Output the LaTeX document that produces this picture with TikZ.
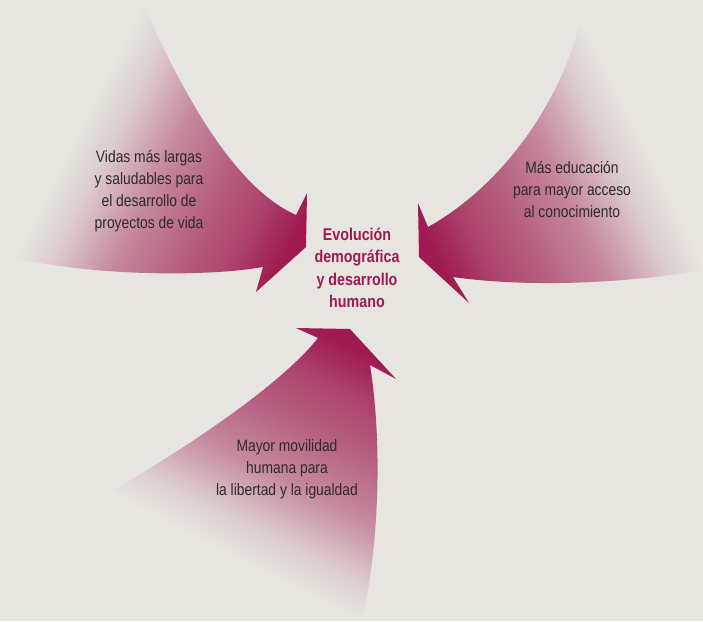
\documentclass[tikz,border=0pt]{standalone}
\usepackage{fontspec}
\setmainfont{Liberation Sans}[FakeStretch=0.84]
\definecolor{fondo}{HTML}{E6E5DF}
\definecolor{vino}{HTML}{9E1A50}
\definecolor{texto}{HTML}{2E2B2C}
\colorlet{vinoA}{vino!11!fondo}
\colorlet{vinoB}{vino!45!fondo}
\colorlet{vinoC}{vino!64!fondo}
\colorlet{vinoD}{vino!80!fondo}
\pgfdeclarehorizontalshading{brazofade}{100bp}{color(0bp)=(fondo); color(25bp)=(fondo); color(31.5bp)=(vinoA); color(42.75bp)=(vinoB); color(53bp)=(vinoC); color(63.5bp)=(vinoD); color(72bp)=(vino); color(100bp)=(vino)}
\tikzset{
  capa/.style={shading=brazofade},
  etiqueta/.style={align=center, text=texto, font=\fontsize{16.5}{22}\selectfont},
  titulo/.style={align=center, text=vino, font=\bfseries\fontsize{17}{22.5}\selectfont}
}
\begin{document}
\begin{tikzpicture}[x=1pt,y=-1pt] %---- three arrows
\fill[fondo] (0,0) rectangle (703,621);
\useasboundingbox (0,0) rectangle (703,621);
\begin{scope} % ---- left arrow
\clip (144,6) .. controls (190,110) and (240,190) .. (296,215) -- (307,193) -- (306,247) -- (256,292) -- (263,267)
  .. controls (200,278) and (80,275) .. (8,256) -- cycle;
\coordinate (ejeA) at (192,190);
\begin{scope}[transform canvas={rotate around={-27:(ejeA)}}]
\shade[capa] (ejeA) ++(-128,-350) rectangle ++(256,700);
\end{scope}
\end{scope}
\begin{scope} % ---- right arrow
\clip (581,17) .. controls (560,110) and (495,190) .. (428,227) -- (418,203) -- (419,257) -- (469,303) -- (453,277)
  .. controls (530,288) and (630,283) .. (703,270) -- cycle;
\coordinate (ejeB) at (532,202);
\begin{scope}[transform canvas={rotate around={-154:(ejeB)}}]
\shade[capa] (ejeB) ++(-125.5,-350) rectangle ++(251,700);
\end{scope}
\end{scope}
\begin{scope} % ---- bottom arrow
\clip (110,492) .. controls (200,440) and (285,380) .. (318,338) -- (296,328) -- (350,329) -- (396,379) -- (370,365)
  .. controls (382,440) and (380,540) .. (362,621) -- cycle;
\coordinate (ejeC) at (292,442);
\begin{scope}[transform canvas={rotate around={63:(ejeC)}}]
\shade[capa] (ejeC) ++(-127.5,-350) rectangle ++(255,700);
\end{scope}
\end{scope}
\node[titulo] (centro) at (357,268) {Evolución\\demográfica\\y desarrollo\\humano};
\node[etiqueta] (vidas) at (149,191) {Vidas más largas\\y saludables para\\el desarrollo de\\proyectos de vida};
\node[etiqueta] (educacion) at (572,190) {Más educación\\para mayor acceso\\al conocimiento};
\node[etiqueta] (movilidad) at (287,469) {Mayor movilidad\\humana para\\la libertad y la igualdad};
\end{tikzpicture}
\end{document}
